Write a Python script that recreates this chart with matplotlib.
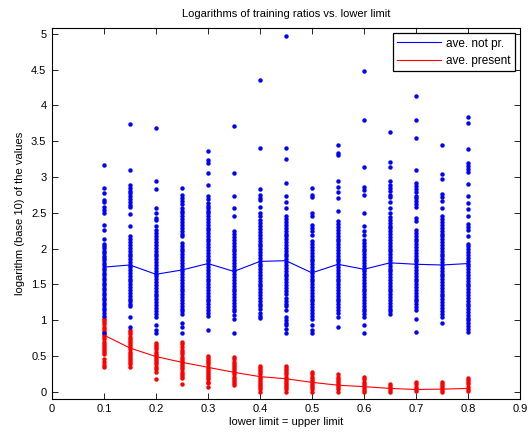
import numpy as np
import matplotlib
matplotlib.use('Agg')
import matplotlib.pyplot as plt
from matplotlib.ticker import FormatStrFormatter

plt.rcParams['font.family'] = ['Liberation Sans', 'DejaVu Sans']

# lower limit values (x positions of the columns)
limits = [0.10, 0.15, 0.20, 0.25, 0.30, 0.35, 0.40, 0.45,
          0.50, 0.55, 0.60, 0.65, 0.70, 0.75, 0.80]

# averages drawn as lines
ave_not_pr = [1.74, 1.77, 1.64, 1.70, 1.79, 1.68, 1.82, 1.83,
              1.66, 1.78, 1.71, 1.80, 1.78, 1.77, 1.79]
ave_present = [0.79, 0.61, 0.49, 0.41, 0.34, 0.27, 0.21, 0.18,
               0.13, 0.09, 0.07, 0.045, 0.03, 0.035, 0.045]

# log10 ratios, "not present" (blue dots), one list per lower limit
b010 = [3.17, 2.84, 2.77, 2.68, 2.65, 2.58, 2.54, 2.49, 2.33, 2.26, 2.14, 2.07, 2.04, 2.01,
        1.97, 1.94, 1.90, 1.87, 1.84, 1.80, 1.77, 1.73, 1.70, 1.66, 1.63, 1.59, 1.56, 1.52,
        1.49, 1.45, 1.42, 1.38, 1.35, 1.31, 1.28, 1.24, 1.21, 1.17, 1.14, 1.10, 1.06, 0.82]
b015 = [3.74, 3.10, 2.89, 2.85, 2.81, 2.77, 2.73, 2.69, 2.65, 2.61, 2.58, 2.48, 2.31, 2.17,
        2.13, 2.09, 2.05, 2.01, 1.97, 1.93, 1.89, 1.85, 1.81, 1.77, 1.74, 1.70, 1.66, 1.62,
        1.58, 1.54, 1.50, 1.46, 1.42, 1.38, 1.34, 1.30, 1.26, 1.22, 1.19, 1.05, 0.90]
b020 = [3.69, 2.94, 2.83, 2.57, 2.49, 2.43, 2.40, 2.32, 2.26, 2.22, 2.17, 2.13, 2.09, 2.05,
        2.01, 1.97, 1.93, 1.89, 1.85, 1.81, 1.77, 1.73, 1.69, 1.65, 1.61, 1.57, 1.53, 1.49,
        1.45, 1.41, 1.37, 1.33, 1.29, 1.25, 1.21, 1.17, 1.13, 1.09, 1.05, 0.93, 0.86, 0.82]
b025 = [2.84, 2.75, 2.71, 2.66, 2.62, 2.57, 2.53, 2.49, 2.45, 2.41, 2.37, 2.33, 2.29, 2.25,
        2.21, 2.17, 2.08, 2.04, 2.00, 1.96, 1.92, 1.88, 1.84, 1.80, 1.76, 1.72, 1.68, 1.64,
        1.60, 1.56, 1.52, 1.48, 1.44, 1.40, 1.36, 1.32, 1.28, 1.24, 1.20, 1.16, 1.12, 1.08,
        0.96, 0.91, 0.82]
b030 = [3.37, 3.24, 3.20, 3.06, 2.89, 2.73, 2.69, 2.64, 2.60, 2.56, 2.52, 2.49, 2.45, 2.41,
        2.37, 2.33, 2.29, 2.26, 2.22, 2.18, 2.14, 2.10, 2.06, 2.02, 1.98, 1.94, 1.90, 1.86,
        1.82, 1.78, 1.74, 1.70, 1.66, 1.62, 1.58, 1.54, 1.50, 1.46, 1.42, 1.38, 1.34, 1.30,
        1.26, 1.22, 1.18, 1.14, 1.10, 1.06, 0.86]
b035 = [3.71, 3.06, 2.74, 2.56, 2.45, 2.24, 2.20, 2.16, 2.12, 2.08, 2.04, 2.00, 1.96, 1.92,
        1.88, 1.84, 1.80, 1.76, 1.72, 1.68, 1.64, 1.60, 1.56, 1.52, 1.48, 1.44, 1.40, 1.36,
        1.32, 1.28, 1.24, 1.20, 1.16, 1.12, 1.07, 1.02, 0.82]
b040 = [4.35, 3.40, 2.83, 2.75, 2.71, 2.68, 2.58, 2.50, 2.45, 2.40, 2.35, 2.31, 2.27, 2.23,
        2.19, 2.15, 2.11, 2.07, 2.03, 1.99, 1.95, 1.91, 1.87, 1.83, 1.79, 1.75, 1.71, 1.67,
        1.63, 1.59, 1.55, 1.51, 1.47, 1.43, 1.39, 1.35, 1.31, 1.27, 1.23, 1.19, 1.15, 1.10,
        1.06, 1.03]
b045 = [4.97, 3.40, 3.25, 2.91, 2.73, 2.65, 2.57, 2.45, 2.41, 2.37, 2.33, 2.29, 2.25, 2.21,
        2.17, 2.13, 2.09, 2.05, 2.01, 1.97, 1.93, 1.89, 1.85, 1.81, 1.77, 1.73, 1.69, 1.65,
        1.61, 1.57, 1.53, 1.49, 1.45, 1.41, 1.37, 1.31, 1.27, 1.23, 1.19, 1.14, 1.05, 1.00,
        0.96, 0.93, 0.87, 0.82]
b050 = [2.84, 2.75, 2.72, 2.49, 2.45, 2.33, 2.28, 2.24, 2.19, 2.10, 2.06, 2.02, 1.98, 1.94,
        1.90, 1.86, 1.82, 1.78, 1.74, 1.70, 1.66, 1.62, 1.58, 1.54, 1.50, 1.46, 1.42, 1.38,
        1.34, 1.30, 1.26, 1.22, 1.18, 1.14, 1.10, 1.06, 1.02, 0.93, 0.86, 0.82]
b055 = [3.44, 3.33, 3.31, 2.95, 2.86, 2.79, 2.70, 2.53, 2.38, 2.34, 2.30, 2.26, 2.22, 2.18,
        2.14, 2.10, 2.06, 2.02, 1.98, 1.94, 1.90, 1.86, 1.82, 1.78, 1.74, 1.70, 1.66, 1.62,
        1.58, 1.54, 1.50, 1.46, 1.42, 1.38, 1.34, 1.30, 1.26, 1.22, 1.18, 1.14, 1.10, 1.05,
        0.91]
b060 = [4.48, 3.80, 3.14, 2.86, 2.82, 2.75, 2.49, 2.31, 2.24, 2.19, 2.12, 2.08, 2.04, 2.00,
        1.96, 1.92, 1.88, 1.84, 1.80, 1.76, 1.72, 1.68, 1.64, 1.60, 1.56, 1.52, 1.48, 1.44,
        1.40, 1.36, 1.32, 1.28, 1.24, 1.20, 1.16, 1.12, 1.08, 1.05, 0.93, 0.82]
b065 = [3.63, 3.21, 3.14, 2.94, 2.89, 2.85, 2.80, 2.75, 2.72, 2.65, 2.56, 2.49, 2.44, 2.40,
        2.36, 2.32, 2.28, 2.24, 2.20, 2.16, 2.12, 2.08, 2.04, 2.00, 1.96, 1.92, 1.88, 1.84,
        1.80, 1.76, 1.72, 1.68, 1.64, 1.60, 1.56, 1.52, 1.48, 1.44, 1.40, 1.36, 1.32, 1.28,
        1.24, 1.20, 1.16, 1.12, 1.08]
b070 = [4.13, 3.79, 3.55, 3.10, 2.91, 2.87, 2.83, 2.79, 2.74, 2.70, 2.66, 2.62, 2.58, 2.42,
        2.38, 2.26, 2.22, 2.18, 2.14, 2.10, 2.06, 2.02, 1.98, 1.94, 1.90, 1.86, 1.82, 1.78,
        1.74, 1.70, 1.66, 1.62, 1.58, 1.54, 1.50, 1.46, 1.42, 1.38, 1.34, 1.30, 1.26, 1.22,
        1.18, 1.14, 1.01, 0.83]
b075 = [3.44, 3.04, 2.97, 2.76, 2.72, 2.67, 2.56, 2.45, 2.41, 2.37, 2.33, 2.29, 2.25, 2.21,
        2.17, 2.13, 2.09, 2.05, 2.01, 1.97, 1.93, 1.89, 1.85, 1.81, 1.77, 1.73, 1.69, 1.65,
        1.61, 1.57, 1.53, 1.49, 1.45, 1.41, 1.37, 1.33, 1.29, 1.25, 1.21, 1.17, 1.13, 1.09,
        1.05, 0.96]
b080 = [3.84, 3.76, 3.39, 3.19, 3.15, 3.11, 3.07, 2.90, 2.73, 2.63, 2.55, 2.45, 2.34, 2.30,
        2.26, 2.17, 2.07, 2.03, 1.99, 1.95, 1.91, 1.87, 1.83, 1.79, 1.75, 1.71, 1.67, 1.63,
        1.59, 1.55, 1.51, 1.47, 1.43, 1.39, 1.35, 1.31, 1.27, 1.23, 1.19, 1.15, 1.11, 1.07,
        1.03, 1.00, 0.96, 0.92, 0.88, 0.84]

# log10 ratios, "present" (red dots)
r010 = [1.03, 1.00, 0.97, 0.94, 0.91, 0.88, 0.85, 0.82, 0.79, 0.76, 0.73, 0.70, 0.67, 0.64,
        0.61, 0.58, 0.55, 0.52, 0.45, 0.41, 0.37, 0.34]
r015 = [0.86, 0.83, 0.80, 0.77, 0.74, 0.71, 0.68, 0.65, 0.62, 0.59, 0.56, 0.53, 0.50, 0.47,
        0.44, 0.41, 0.38, 0.35]
r020 = [0.68, 0.65, 0.62, 0.59, 0.56, 0.53, 0.50, 0.47, 0.44, 0.41, 0.38, 0.35, 0.32, 0.28,
        0.17]
r025 = [0.70, 0.66, 0.62, 0.58, 0.55, 0.52, 0.49, 0.46, 0.43, 0.40, 0.37, 0.34, 0.31, 0.28,
        0.25, 0.22, 0.19, 0.11]
r030 = [0.50, 0.47, 0.44, 0.41, 0.38, 0.35, 0.32, 0.29, 0.26, 0.23, 0.20, 0.17, 0.14, 0.12,
        0.07]
r035 = [0.48, 0.45, 0.42, 0.39, 0.36, 0.33, 0.30, 0.27, 0.24, 0.21, 0.18, 0.15, 0.12, 0.09]
r040 = [0.36, 0.33, 0.30, 0.27, 0.24, 0.21, 0.18, 0.15, 0.12, 0.09, 0.06, 0.03, 0.00]
r045 = [0.36, 0.33, 0.30, 0.27, 0.24, 0.21, 0.18, 0.15, 0.12, 0.09, 0.06, 0.03, 0.00]
r050 = [0.27, 0.24, 0.21, 0.18, 0.15, 0.12, 0.09, 0.06, 0.03, 0.00]
r055 = [0.24, 0.21, 0.18, 0.15, 0.12, 0.09, 0.06, 0.03, 0.00]
r060 = [0.20, 0.17, 0.14, 0.11, 0.08, 0.05, 0.02, 0.00]
r065 = [0.11, 0.08, 0.05, 0.02, 0.00]
r070 = [0.13, 0.10, 0.07, 0.04, 0.01]
r075 = [0.14, 0.11, 0.08, 0.05, 0.02, 0.00]
r080 = [0.19, 0.16, 0.13, 0.10, 0.07, 0.04, 0.01]

not_present = [b010, b015, b020, b025, b030, b035, b040, b045,
               b050, b055, b060, b065, b070, b075, b080]
present = [r010, r015, r020, r025, r030, r035, r040, r045,
           r050, r055, r060, r065, r070, r075, r080]

fig = plt.figure(figsize=(5.3, 4.33), dpi=100)
ax = fig.add_axes([0.098, 0.079, 0.883, 0.856])

# dots first, lines on top
for x, ys in zip(limits, present):
    ax.plot([x] * len(ys), ys, 'o', color='r', ms=3.2, mew=0)
for x, ys in zip(limits, not_present):
    ax.plot([x] * len(ys), ys, 'o', color='b', ms=3.2, mew=0)

ax.plot(limits, ave_not_pr, color='b', lw=0.8, label='ave. not pr.')
ax.plot(limits, ave_present, color='r', lw=0.8, label='ave. present')

ax.set_xlim(0, 0.9)
ax.set_ylim(-0.1, 5.08)
ax.set_xticks(np.arange(0, 0.91, 0.1))
ax.set_yticks(np.arange(0, 5.01, 0.5))
ax.xaxis.set_major_formatter(FormatStrFormatter('%g'))
ax.yaxis.set_major_formatter(FormatStrFormatter('%g'))
ax.tick_params(direction='in', top=True, right=True, length=4, width=0.6,
               labelsize=8, pad=4)
for sp in ax.spines.values():
    sp.set_linewidth(0.8)

ax.set_title('Logarithms of training ratios vs. lower limit', fontsize=8, pad=8)
ax.set_xlabel('lower limit = upper limit', fontsize=8, labelpad=2)
ax.set_ylabel('logarithm (base 10) of the values', fontsize=8, labelpad=4)

leg = ax.legend(loc='upper right', fontsize=8.5, fancybox=False, edgecolor='k',
                framealpha=1, handlelength=3.7, borderaxespad=0.45,
                borderpad=0.35, labelspacing=0.45, handletextpad=0.45)
leg.get_frame().set_linewidth(0.9)

fig.savefig('out.png', dpi=100)
